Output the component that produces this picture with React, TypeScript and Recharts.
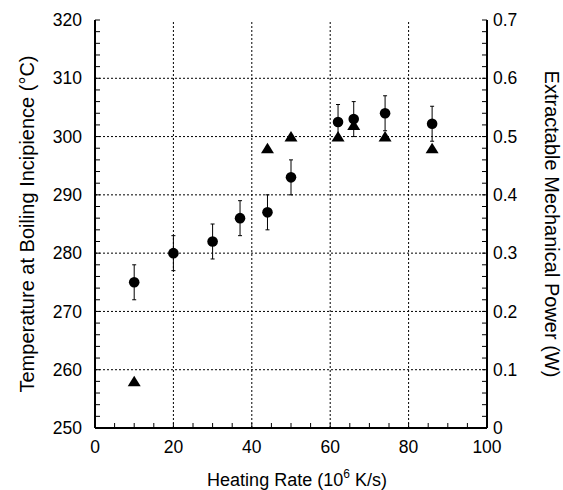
import React from "react";
import {
  ScatterChart,
  Scatter,
  XAxis,
  YAxis,
  ErrorBar,
  ReferenceLine,
  Label,
} from "recharts";

// circles: boiling incipience temperature (left axis)
const heatingRate = [10, 20, 30, 37, 44, 50, 62, 66, 74, 86];
const boilingTemp = [275, 280, 282, 286, 287, 293, 302.5, 303, 304, 302.2];
const tempError = [3, 3, 3, 3, 3, 3, 3, 3, 3, 3];

// triangles: extractable mechanical power (right axis)
const powerRate = [10, 44, 50, 62, 66, 74, 86];
const mechPower = [0.08, 0.48, 0.5, 0.5, 0.52, 0.5, 0.48];

const xGrid = [20, 40, 60, 80];
const yGrid = [260, 270, 280, 290, 300, 310];

// minor ticks every 5 on x, every 2 degC (0.02 W) on y
const xTicks = Array.from({ length: 21 }, (_, i) => i * 5);
const tempTicks = Array.from({ length: 36 }, (_, i) => 250 + i * 2);
const powerTicks = Array.from({ length: 36 }, (_, i) => Math.round(i * 2) / 100);

const tempData = heatingRate.map((x, i) => ({
  x,
  temp: boilingTemp[i],
  err: tempError[i],
}));
const powerData = powerRate.map((x, i) => ({ x, power: mechPower[i] }));

const axisLine = { stroke: "#000", strokeWidth: 2 };
const tickLine = { stroke: "#000", strokeWidth: 1 };
const tickStyle = { fill: "#000", fontSize: 17.5 };

const Dot = (props: any) => (
  <circle cx={props.cx} cy={props.cy} r={5.3} fill="#000" />
);

const Tri = (props: any) => {
  const { cx, cy } = props;
  return (
    <polygon
      points={`${cx},${cy - 5.5} ${cx - 6.5},${cy + 5} ${cx + 6.5},${cy + 5}`}
      fill="#000"
    />
  );
};

// titles are centred on the plot area
const LeftTitle = ({ viewBox }: any) => {
  const x = 27;
  const y = viewBox.y + viewBox.height / 2;
  return (
    <text
      x={x}
      y={y}
      transform={`rotate(-90 ${x} ${y})`}
      textAnchor="middle"
      dominantBaseline="central"
      fontSize={20}
      fill="#000"
    >
      Temperature at Boiling Incipience (°C)
    </text>
  );
};

const RightTitle = ({ viewBox }: any) => {
  const x = 552;
  const y = viewBox.y + viewBox.height / 2;
  return (
    <text
      x={x}
      y={y}
      transform={`rotate(90 ${x} ${y})`}
      textAnchor="middle"
      dominantBaseline="central"
      fontSize={20}
      fill="#000"
    >
      Extractable Mechanical Power (W)
    </text>
  );
};

const BottomTitle = ({ viewBox }: any) => {
  const x = viewBox.x + viewBox.width / 2 + 6;
  const y = 485.5;
  return (
    <text x={x} y={y} textAnchor="middle" fontSize={18} fill="#000">
      Heating Rate (10
      <tspan dy={-8} fontSize={12}>6</tspan>
      <tspan dy={8}> K/s)</tspan>
    </text>
  );
};

export default function App() {
  return (
    <div
      style={{
        position: "absolute",
        left: 0,
        top: 0,
        fontFamily: "'Liberation Sans', Arial, sans-serif",
      }}
    >
      <ScatterChart
        width={563}
        height={490}
        margin={{ top: 20, right: 0, bottom: 0, left: 0 }}
      >
        <XAxis
          dataKey="x"
          type="number"
          domain={[0, 100]}
          ticks={xTicks}
          interval={0}
          allowDataOverflow
          height={62}
          axisLine={axisLine}
          tickLine={tickLine}
          tickSize={-5}
          tickMargin={18}
          tick={tickStyle}
          tickFormatter={(v: number) => (v % 20 === 0 ? String(v) : "")}
        >
          <Label content={BottomTitle} />
        </XAxis>
        <XAxis
          xAxisId="top"
          orientation="top"
          dataKey="x"
          type="number"
          domain={[0, 100]}
          ticks={xTicks}
          interval={0}
          allowDataOverflow
          height={0}
          axisLine={axisLine}
          tickLine={tickLine}
          tickSize={-5}
          tickFormatter={() => ""}
        />
        <YAxis
          yAxisId="left"
          dataKey="temp"
          type="number"
          domain={[250, 320]}
          ticks={tempTicks}
          interval={0}
          allowDataOverflow
          width={95}
          axisLine={axisLine}
          tickLine={tickLine}
          tickSize={-5}
          tickMargin={18}
          tick={tickStyle}
          tickFormatter={(v: number) => (v % 10 === 0 ? String(v) : "")}
        >
          <Label content={LeftTitle} />
        </YAxis>
        <YAxis
          yAxisId="right"
          orientation="right"
          dataKey="power"
          type="number"
          domain={[0, 0.7]}
          ticks={powerTicks}
          interval={0}
          allowDataOverflow
          width={76}
          axisLine={axisLine}
          tickLine={tickLine}
          tickSize={-5}
          tickMargin={11}
          tick={{ ...tickStyle, textAnchor: "start" }}
          tickFormatter={(v: number) =>
            Math.round(v * 100) % 10 === 0 ? String(Math.round(v * 10) / 10) : ""
          }
        >
          <Label content={RightTitle} />
        </YAxis>
        {xGrid.map((v) => (
          <ReferenceLine
            key={"gx" + v}
            x={v}
            yAxisId="left"
            stroke="#000"
            strokeWidth={1}
            strokeDasharray="2 2"
          />
        ))}
        {yGrid.map((v) => (
          <ReferenceLine
            key={"gy" + v}
            y={v}
            yAxisId="left"
            stroke="#000"
            strokeWidth={1}
            strokeDasharray="2 2"
          />
        ))}
        <Scatter
          data={tempData}
          yAxisId="left"
          shape={Dot}
          isAnimationActive={false}
        >
          <ErrorBar
            dataKey="err"
            direction="y"
            width={2}
            stroke="#000"
            strokeWidth={1}
            isAnimationActive={false}
          />
        </Scatter>
        <Scatter
          data={powerData}
          yAxisId="right"
          shape={Tri}
          isAnimationActive={false}
        />
      </ScatterChart>
    </div>
  );
}
